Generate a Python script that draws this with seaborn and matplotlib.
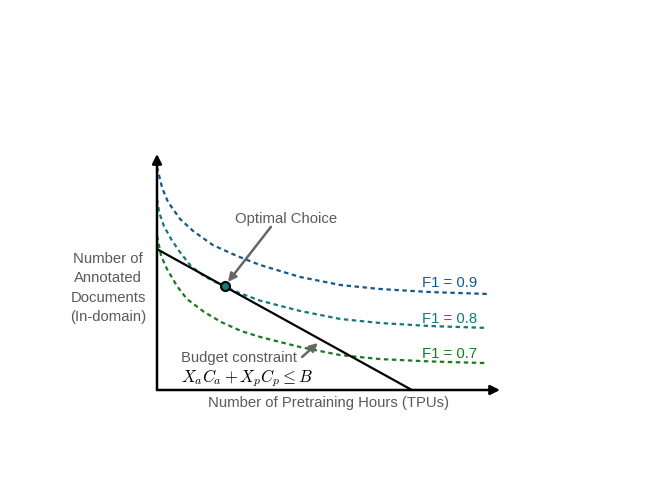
import matplotlib
matplotlib.use("Agg")
import matplotlib.pyplot as plt
import seaborn as sns

# indifference curves (x: pretraining hours, y: annotated docs)
x_f09 = [0.00, 0.15, 0.32, 0.67, 1.05, 1.63, 2.33, 3.00, 4.17, 5.34, 6.50, 7.96, 9.62]
y_f09 = [9.45, 8.56, 7.97, 7.25, 6.74, 6.14, 5.68, 5.30, 4.79, 4.45, 4.28, 4.15, 4.07]

x_f08 = [0.00, 0.06, 0.20, 0.41, 0.64, 0.99, 1.37, 1.87, 2.33, 3.00, 4.17, 5.34, 6.50, 7.96, 9.62]
y_f08 = [8.09, 7.54, 6.95, 6.40, 5.90, 5.25, 4.83, 4.45, 4.15, 3.79, 3.35, 3.01, 2.84, 2.71, 2.63]

x_f07 = [0.00, 0.12, 0.29, 0.58, 0.87, 1.37, 1.87, 2.45, 3.00, 4.17, 5.34, 6.50, 7.96, 9.62]
y_f07 = [6.53, 5.68, 5.13, 4.41, 3.86, 3.31, 2.88, 2.50, 2.25, 1.82, 1.48, 1.31, 1.21, 1.14]

# budget line end points and optimum
budget_x = [0.0, 7.43]
budget_y = [5.97, 0.0]
opt_x, opt_y = 1.98, 4.41

curve_labels = ["F1 = 0.9", "F1 = 0.8", "F1 = 0.7"]
colors = ["#14598a", "#12787a", "#1a7a1c"]

sns.set_theme(style="white")
plt.rcParams["font.family"] = ["Liberation Sans", "DejaVu Sans"]
plt.rcParams["mathtext.fontset"] = "cm"

fig = plt.figure(figsize=(6.47, 4.85), dpi=100)
ax = fig.add_axes([157 / 647, 94 / 485, 343 / 647, 236 / 485])
ax.set_xlim(0, 10)
ax.set_ylim(0, 10)
for s in ax.spines.values():
    s.set_visible(False)
ax.set_xticks([])
ax.set_yticks([])

curves = [(x_f09, y_f09), (x_f08, y_f08), (x_f07, y_f07)]
label_y = [4.58, 3.05, 1.57]
for (xs, ys), c, lab, ly in zip(curves, colors, curve_labels, label_y):
    sns.lineplot(x=xs, y=ys, ax=ax, color=c, linestyle=(0, (2, 1.6)), lw=1.6, clip_on=False)
    ax.text(8.53, ly, lab, color=c, fontsize=10.7, ha="center", va="center")

sns.lineplot(x=budget_x, y=budget_y, ax=ax, color="black", lw=1.6)
ax.plot([opt_x], [opt_y], "o", ms=6.5, mfc=colors[1], mec="black", mew=1.5, zorder=5)

# axes arrows
arr = dict(arrowstyle="-|>", lw=1.8, color="black", mutation_scale=14, shrinkA=0, shrinkB=0)
ax.annotate("", xy=(10, 0), xytext=(0, 0), arrowprops=arr, annotation_clip=False)
ax.annotate("", xy=(0, 10), xytext=(0, 0), arrowprops=arr, annotation_clip=False)

gray = "#5a5a5a"
pointer = dict(arrowstyle="-|>", lw=1.8, color="#666666", mutation_scale=12, shrinkA=0, shrinkB=0)
ax.text(3.75, 7.29, "Optimal Choice", color=gray, fontsize=10.7, ha="center", va="center")
ax.annotate("", xy=(2.07, 4.58), xytext=(3.32, 6.91), arrowprops=pointer, annotation_clip=False)
ax.text(2.39, 1.38, "Budget constraint", color=gray, fontsize=10.7, ha="center", va="center")
ax.annotate("", xy=(4.69, 1.99), xytext=(4.23, 1.40), arrowprops=pointer, annotation_clip=False)
ax.text(2.61, 0.53, r"$X_aC_a + X_pC_p \leq B$", color="black", fontsize=12, ha="center", va="center")

ax.text(-1.43, 4.36, "Number of\nAnnotated\nDocuments\n(In-domain)", color=gray, fontsize=10.7,
        ha="center", va="center", linespacing=1.5)
ax.text(5.01, -0.51, "Number of Pretraining Hours (TPUs)", color=gray, fontsize=10.7,
        ha="center", va="center")

fig.savefig("out.png", dpi=100)
